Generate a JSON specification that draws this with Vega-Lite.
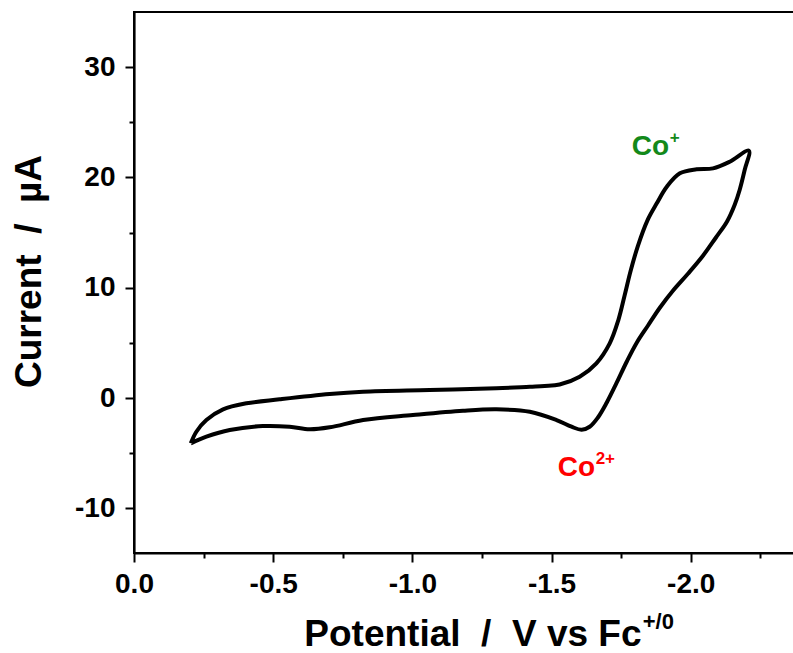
{
  "$schema": "https://vega.github.io/schema/vega-lite/v6.json",
  "autosize": "none",
  "padding": {"left": 134, "top": 12, "right": 0, "bottom": 100},
  "width": 660,
  "height": 541,
  "background": "white",
  "config": {
    "view": {"stroke": "black", "strokeWidth": 2},
    "axis": {
      "grid": false,
      "domainColor": "black",
      "domainWidth": 2.2,
      "tickColor": "black",
      "tickWidth": 2,
      "labelFont": "Liberation Sans",
      "labelFontWeight": "bold",
      "labelFontSize": 28,
      "labelColor": "black",
      "titleFont": "Liberation Sans",
      "titleFontWeight": "bold",
      "titleFontSize": 37,
      "titleColor": "black"
    }
  },
  "datasets": {
    "cv": [
      {"i": 1, "x": -0.204, "y": -4.107},
      {"i": 2, "x": -0.224, "y": -3.055},
      {"i": 3, "x": -0.260, "y": -1.995},
      {"i": 4, "x": -0.320, "y": -1.024},
      {"i": 5, "x": -0.404, "y": -0.480},
      {"i": 6, "x": -0.523, "y": -0.118},
      {"i": 7, "x": -0.703, "y": 0.363},
      {"i": 8, "x": -0.823, "y": 0.571},
      {"i": 9, "x": -1.062, "y": 0.725},
      {"i": 10, "x": -1.302, "y": 0.879},
      {"i": 11, "x": -1.422, "y": 1.024},
      {"i": 12, "x": -1.475, "y": 1.088},
      {"i": 13, "x": -1.529, "y": 1.224},
      {"i": 14, "x": -1.601, "y": 1.931},
      {"i": 15, "x": -1.661, "y": 3.146},
      {"i": 16, "x": -1.709, "y": 4.959},
      {"i": 17, "x": -1.740, "y": 7.072},
      {"i": 18, "x": -1.762, "y": 9.250},
      {"i": 19, "x": -1.784, "y": 11.517},
      {"i": 20, "x": -1.810, "y": 13.780},
      {"i": 21, "x": -1.845, "y": 16.138},
      {"i": 22, "x": -1.878, "y": 17.652},
      {"i": 23, "x": -1.914, "y": 19.157},
      {"i": 24, "x": -1.961, "y": 20.372},
      {"i": 25, "x": -2.021, "y": 20.734},
      {"i": 26, "x": -2.080, "y": 20.825},
      {"i": 27, "x": -2.140, "y": 21.423},
      {"i": 28, "x": -2.209, "y": 22.421},
      {"i": 29, "x": -2.194, "y": 20.698},
      {"i": 30, "x": -2.176, "y": 18.885},
      {"i": 31, "x": -2.158, "y": 17.525},
      {"i": 32, "x": -2.130, "y": 15.984},
      {"i": 33, "x": -2.090, "y": 14.533},
      {"i": 34, "x": -2.044, "y": 12.901},
      {"i": 35, "x": -1.990, "y": 11.269},
      {"i": 36, "x": -1.936, "y": 9.728},
      {"i": 37, "x": -1.889, "y": 8.187},
      {"i": 38, "x": -1.846, "y": 6.555},
      {"i": 39, "x": -1.806, "y": 5.014},
      {"i": 40, "x": -1.770, "y": 3.291},
      {"i": 41, "x": -1.734, "y": 1.387},
      {"i": 42, "x": -1.698, "y": -0.426},
      {"i": 43, "x": -1.666, "y": -1.786},
      {"i": 44, "x": -1.637, "y": -2.602},
      {"i": 45, "x": -1.608, "y": -2.874},
      {"i": 46, "x": -1.572, "y": -2.602},
      {"i": 47, "x": -1.518, "y": -1.995},
      {"i": 48, "x": -1.422, "y": -1.242},
      {"i": 49, "x": -1.302, "y": -1.024},
      {"i": 50, "x": -1.182, "y": -1.151},
      {"i": 51, "x": -1.002, "y": -1.541},
      {"i": 52, "x": -0.823, "y": -1.995},
      {"i": 53, "x": -0.703, "y": -2.656},
      {"i": 54, "x": -0.631, "y": -2.838},
      {"i": 55, "x": -0.559, "y": -2.602},
      {"i": 56, "x": -0.463, "y": -2.539},
      {"i": 57, "x": -0.344, "y": -2.901},
      {"i": 58, "x": -0.260, "y": -3.509},
      {"i": 59, "x": -0.204, "y": -4.107}
    ],
    "ions": [
      {"x": -1.788, "y": 22.03, "base": "Co", "sup": "+", "ion": "Co+"},
      {"x": -1.522, "y": -7.07, "base": "Co", "sup": "2+", "ion": "Co2+"}
    ],
    "unit": [
      {"x": -1.8276, "y": -20.95, "t": "+/0"}
    ]
  },
  "encoding": {
    "x": {
      "field": "x",
      "type": "quantitative",
      "scale": {"domain": [0, -2.371], "nice": false, "zero": false},
      "axis": {
        "values": [0, -0.25, -0.5, -0.75, -1, -1.25, -1.5, -1.75, -2, -2.25],
        "labelExpr": "abs(round(datum.value*4)) % 2 == 0 ? (datum.value < 0 ? '-' : '') + format(abs(datum.value), '.1f') : ''",
        "tickSize": {"condition": {"test": "abs(round(datum.value*4)) % 2 == 0", "value": 9}, "value": 5},
        "labelPadding": 8,
        "labelFlush": false,
        "labelOverlap": false,
        "title": "Potential\u00a0\u00a0/\u00a0\u00a0V\u00a0vs\u00a0Fc",
        "titleAlign": "right",
        "titleAnchor": "start",
        "titleBaseline": "alphabetic",
        "titleX": 507,
        "titleY": 92
      }
    },
    "y": {
      "field": "y",
      "type": "quantitative",
      "scale": {"domain": [-14.05, 35], "nice": false, "zero": false},
      "axis": {
        "values": [-10, -5, 0, 5, 10, 15, 20, 25, 30],
        "labelExpr": "abs(round(datum.value)) % 10 == 0 ? (datum.value < 0 ? '-' : '') + format(abs(datum.value), 'd') : ''",
        "tickSize": {"condition": {"test": "abs(round(datum.value)) % 10 == 0", "value": 9}, "value": 5},
        "labelPadding": 10,
        "labelOverlap": false,
        "title": "Current\u00a0\u00a0/\u00a0\u00a0µA",
        "titleAngle": -90,
        "titleAlign": "center",
        "titleAnchor": "start",
        "titleBaseline": "alphabetic",
        "titleX": -94,
        "titleY": 259
      }
    }
  },
  "layer": [
    {
      "data": {"name": "cv"},
      "mark": {"type": "line", "stroke": "black", "strokeWidth": 4, "interpolate": "catmull-rom", "strokeJoin": "round"},
      "encoding": {"order": {"field": "i", "type": "quantitative"}}
    },
    {
      "data": {"name": "ions"},
      "mark": {"type": "text", "align": "left", "baseline": "alphabetic", "font": "Liberation Sans", "fontWeight": "bold", "fontSize": 28},
      "encoding": {
        "text": {"field": "base"},
        "color": {"field": "ion", "type": "nominal", "scale": {"domain": ["Co+", "Co2+"], "range": ["#13891a", "#ff0000"]}, "legend": null}
      }
    },
    {
      "data": {"name": "ions"},
      "mark": {"type": "text", "align": "left", "baseline": "alphabetic", "font": "Liberation Sans", "fontWeight": "bold", "fontSize": 17, "dx": 38, "dy": -12},
      "encoding": {
        "text": {"field": "sup"},
        "color": {"field": "ion", "type": "nominal", "scale": {"domain": ["Co+", "Co2+"], "range": ["#13891a", "#ff0000"]}, "legend": null}
      }
    },
    {
      "data": {"name": "unit"},
      "mark": {"type": "text", "align": "left", "baseline": "alphabetic", "font": "Liberation Sans", "fontWeight": "bold", "fontSize": 22, "color": "black"},
      "encoding": {"text": {"field": "t"}}
    }
  ]
}
